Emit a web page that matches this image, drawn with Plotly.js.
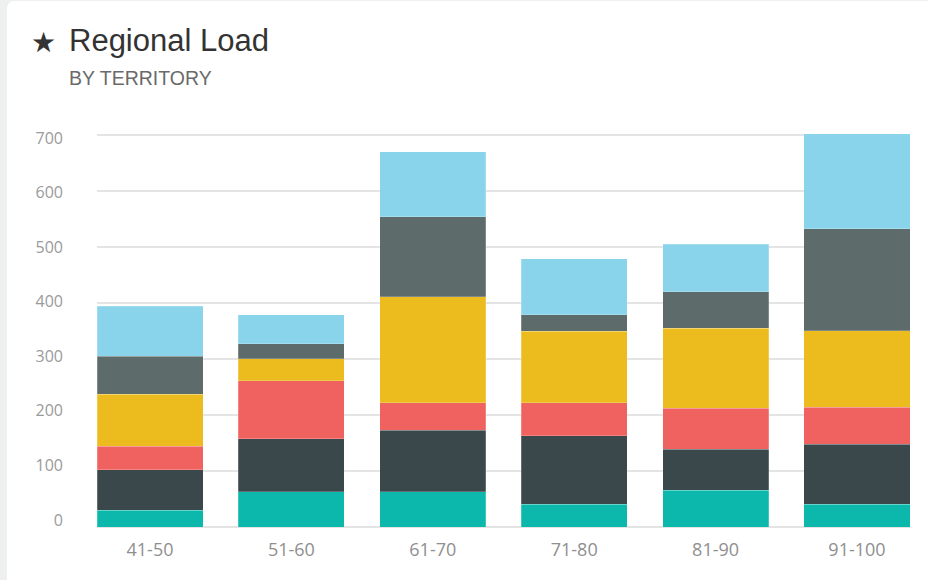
<!DOCTYPE html>
<html>
<head>
<meta charset="utf-8">
<script src="https://cdn.plot.ly/plotly-3.0.1.min.js"></script>
<style>
  html, body { margin: 0; padding: 0; background: #eef0ef; width: 928px; height: 580px; overflow: hidden; }
  #card { position: absolute; left: 7px; top: 1px; width: 960px; height: 620px; background: #ffffff; border-radius: 7px; }
  #chart { position: absolute; left: 0; top: 0; width: 928px; height: 580px; }
</style>
</head>
<body>
<div id="card"></div>
<div id="chart"></div>
<script>
// Data
const categories = ["41-50", "51-60", "61-70", "71-80", "81-90", "91-100"];
const seriesNames = ["Territory 1", "Territory 2", "Territory 3", "Territory 4", "Territory 5", "Territory 6"];
const teal      = [30, 63, 63, 41, 66, 41];
const slate     = [72, 95, 110, 122, 73, 107];
const coral     = [42, 103, 49, 59, 73, 66];
const gold      = [93, 40, 189, 128, 143, 137];
const gray      = [68, 26, 143, 29, 65, 182];
const skyBlue   = [89, 52, 116, 100, 85, 170];
const yTicks    = [0, 100, 200, 300, 400, 500, 600, 700];

const seriesValues = [teal, slate, coral, gold, gray, skyBlue];
const colors = ["#0bb8ab", "#3a474b", "#f06260", "#ecbc1e", "#5e6b6b", "#89d4eb"];

const traces = seriesValues.map((vals, i) => ({
  type: "bar",
  name: seriesNames[i],
  x: categories,
  y: vals,
  marker: { color: colors[i], line: { color: "rgba(255,255,255,0.35)", width: 0.6 } },
  hoverinfo: "x+y+name"
}));
// empty trace so that the label axis (yaxis2) is drawn
traces.push({ type: "scatter", x: [], y: [], yaxis: "y2", showlegend: false, hoverinfo: "skip" });

// plot area geometry (pixels)
const W = 928, H = 580;
const m = { l: 97, r: 18, t: 124, b: 53 };
const pw = W - m.l - m.r, ph = H - m.t - m.b;
const px = x => (x - m.l) / pw;
const py = y => (H - m.b - y) / ph;

const layout = {
  width: W, height: H,
  margin: m,
  paper_bgcolor: "rgba(0,0,0,0)",
  plot_bgcolor: "rgba(0,0,0,0)",
  barmode: "stack",
  bargap: 0.25,
  showlegend: false,
  font: { family: "Open Sans, sans-serif", color: "#999999" },
  xaxis: {
    type: "category",
    range: [-0.375, 5.375],
    showgrid: false,
    showline: false,
    zeroline: false,
    ticks: "",
    ticklabelstandoff: 10,
    tickfont: { family: "Open Sans, sans-serif", size: 18, color: "#8f8f8f" }
  },
  yaxis: {
    range: [0, 720],
    tickvals: yTicks,
    showgrid: true,
    gridcolor: "#e4e4e4",
    gridwidth: 1.5,
    zeroline: true,
    zerolinecolor: "#e4e4e4",
    zerolinewidth: 1.5,
    showline: false,
    ticks: "",
    showticklabels: false
  },
  // label axis: the reference's tick labels are spaced slightly tighter than its gridlines
  yaxis2: {
    overlaying: "y",
    anchor: "x",
    side: "left",
    range: [-12.8, 725.7],
    tickvals: yTicks,
    ticktext: yTicks.map(String),
    showgrid: false,
    zeroline: false,
    showline: false,
    ticks: "",
    ticklabelstandoff: 33,
    fixedrange: true,
    tickfont: { family: "Open Sans, sans-serif", size: 16, color: "#9a9a9a" }
  },
  annotations: [
    { xref: "paper", yref: "paper", x: px(43), y: py(42), xanchor: "center", yanchor: "middle",
      text: "★", showarrow: false, font: { family: "DejaVu Sans, sans-serif", size: 28, color: "#333333" } },
    { xref: "paper", yref: "paper", x: px(67), y: py(40), xanchor: "left", yanchor: "middle",
      text: "Regional Load", showarrow: false, font: { family: "Liberation Sans, Arial, sans-serif", size: 31, color: "#333333" } },
    { xref: "paper", yref: "paper", x: px(67), y: py(78), xanchor: "left", yanchor: "middle",
      text: "BY TERRITORY", showarrow: false, font: { family: "Liberation Sans, Arial, sans-serif", size: 19.5, color: "#6a6a6a" } }
  ]
};

Plotly.newPlot("chart", traces, layout, { displayModeBar: false, staticPlot: false });
</script>
</body>
</html>
